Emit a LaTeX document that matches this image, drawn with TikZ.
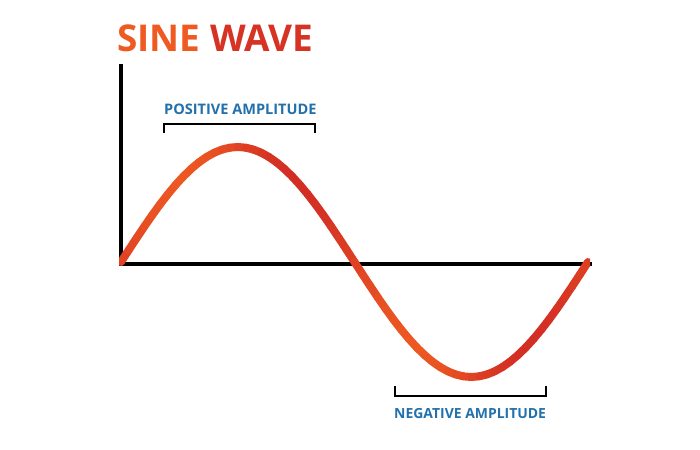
\documentclass[tikz,border=0pt]{standalone}
\usepackage{fontspec}
\setmainfont{Open Sans}
\usepackage{tikz}
\usetikzlibrary{positioning}

\definecolor{waveorange}{HTML}{EE5A22}
\definecolor{wavered}{HTML}{D22C24}
\definecolor{labelblue}{HTML}{2270AC}

\begin{document}
\begin{tikzpicture}[x=0.03cm,y=-0.03cm]
		\useasboundingbox[fill=white] (0,0) rectangle (700,450);
		\tikzset{
			axisline/.style={black,line width=3.2pt},
			bracketline/.style={black,line width=2.2pt},
			amplabel/.style={text=labelblue,font=\fontsize{12.4}{13}\selectfont\bfseries,inner sep=0pt,anchor=base west}
		}
		% Title
		\node[anchor=base west,inner sep=0pt,font=\fontsize{31.5}{32}\selectfont\bfseries] (title) at (117,52)
			{\textcolor{waveorange}{SINE} \textcolor{wavered!85!waveorange}{WAVE}};
		
		% Axes
		\coordinate (origin) at (121,264);
		\coordinate (ytop) at (121,64);
		\coordinate (xend) at (592,264);
		\draw[axisline] (ytop) -- (origin) -- (xend);
		
		% Sine wave, coloured piece by piece
		\begin{scope}
			\clip (119,0) rectangle (590,450);
			\foreach \i in {0,...,59}{
				\pgfmathtruncatemacro{\mix}{50+45*sin(\i*12)}
				\draw[line width=6.8pt,line cap=round,color=waveorange!\mix!wavered]
					({121+7.7833*\i},{262-115*sin(6*\i)}) -- ({121+7.7833*(\i+1)},{262-115*sin(6*(\i+1))});
			}
		\end{scope}
		
		% Positive amplitude
		\node[amplabel] (poslabel) at (164,115) {POSITIVE AMPLITUDE};
		\coordinate (posl) at (164,133);
		\coordinate (posr) at (315,133);
		\draw[bracketline] (posl) -- ++(0,-9) -| (posr);
		
		% Negative amplitude
		\coordinate (negl) at (395,386);
		\coordinate (negr) at (546,386);
		\draw[bracketline] (negl) -- ++(0,10) -| (negr);
		\node[amplabel,font=\fontsize{11.9}{12}\selectfont\bfseries] (neglabel) at (394,418) {NEGATIVE AMPLITUDE};
	\end{tikzpicture}
\end{document}
